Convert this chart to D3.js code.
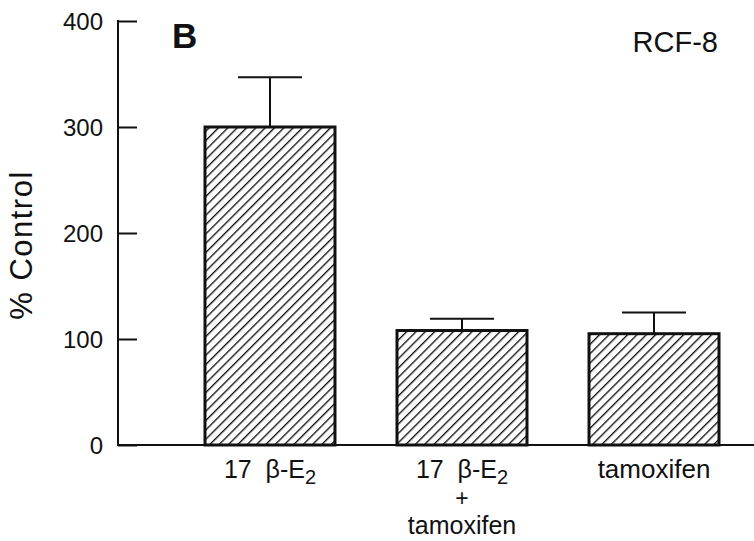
<!DOCTYPE html>
<html><head><meta charset="utf-8">
<script src="https://cdn.jsdelivr.net/npm/d3@7/dist/d3.min.js"></script>
<style>body{margin:0;background:#fff}svg{display:block}text{font-family:"Liberation Sans",Arial,sans-serif;fill:#111}</style>
</head><body>
<svg id="c" width="754" height="541"></svg>
<script>
const categories = ["e2", "e2tam", "tam"];
const values = [300, 108, 105];
const errors = [47, 11, 20];
const yTicks = [0, 100, 200, 300, 400];

const svg = d3.select("#c");
const defs = svg.append("defs");
const hs = 6.6;
const pat = defs.append("pattern").attr("id","hatch").attr("patternUnits","userSpaceOnUse")
  .attr("width",hs).attr("height",hs).attr("patternTransform","rotate(45)");
pat.append("rect").attr("width",hs).attr("height",hs).attr("fill","#fff");
pat.append("line").attr("x1",0).attr("y1",-1).attr("x2",0).attr("y2",hs+1).attr("stroke","#111").attr("stroke-width",2.7);

const y = d3.scaleLinear().domain([0,400]).range([445,21]);
const x = d3.scaleBand().domain(categories).range([205,719]).paddingInner(0.323).paddingOuter(0);

// bars
svg.selectAll("rect.bar").data(categories).enter().append("rect")
  .attr("x", d=>x(d)).attr("width", x.bandwidth())
  .attr("y", (d,i)=>y(values[i])).attr("height",(d,i)=>y(0)-y(values[i]))
  .attr("fill","url(#hatch)").attr("stroke","#111").attr("stroke-width",3);

// error bars
const eg = svg.append("g").attr("stroke","#111").attr("stroke-width",2);
categories.forEach((d,i)=>{
  const cx = x(d)+x.bandwidth()/2;
  eg.append("line").attr("x1",cx).attr("x2",cx).attr("y1",y(values[i])).attr("y2",y(values[i]+errors[i]));
  eg.append("line").attr("x1",cx-32).attr("x2",cx+32).attr("y1",y(values[i]+errors[i])).attr("y2",y(values[i]+errors[i]));
});

// y axis
const yAxis = d3.axisRight(y).tickValues(yTicks).tickSize(19).tickFormat("");
const ga = svg.append("g").attr("transform","translate(118,0)").call(yAxis);
ga.select(".domain").remove();
ga.selectAll("line").attr("stroke","#111").attr("stroke-width",2);
svg.append("line").attr("x1",118).attr("x2",118).attr("y1",y(400)-1).attr("y2",y(0)).attr("stroke","#111").attr("stroke-width",2);
svg.append("line").attr("x1",117).attr("x2",754).attr("y1",y(0)).attr("y2",y(0)).attr("stroke","#111").attr("stroke-width",2);
svg.selectAll("text.yt").data(yTicks).enter().append("text")
  .attr("x",103).attr("y",d=>y(d)+8.5).attr("text-anchor","end").attr("font-size",24).text(d=>d);

svg.append("text").attr("transform","translate(32,245) rotate(-90)").attr("text-anchor","middle")
  .attr("font-size",31).attr("letter-spacing",1.5).text("% Control");

svg.append("text").attr("x",172).attr("y",48).attr("font-size",35).attr("font-weight","bold").text("B");
svg.append("text").attr("x",718).attr("y",52).attr("text-anchor","end").attr("font-size",29).text("RCF-8");

// x labels
function e2label(g, cx, yy){
  const t = g.append("text").attr("x",cx).attr("y",yy).attr("text-anchor","middle").attr("font-size",25);
  t.append("tspan").text("17\u00a0\u00a0β-E");
  t.append("tspan").attr("font-size",20).attr("dy",6).text("2");
}
const xl = svg.append("g");
e2label(xl, x("e2")+x.bandwidth()/2, 478);
e2label(xl, x("e2tam")+x.bandwidth()/2, 478);
xl.append("text").attr("x",x("e2tam")+x.bandwidth()/2).attr("y",506).attr("text-anchor","middle").attr("font-size",23).text("+");
xl.append("text").attr("x",x("e2tam")+x.bandwidth()/2).attr("y",534).attr("text-anchor","middle").attr("font-size",25).text("tamoxifen");
xl.append("text").attr("x",x("tam")+x.bandwidth()/2).attr("y",478).attr("text-anchor","middle").attr("font-size",26).text("tamoxifen");
</script>
</body></html>
